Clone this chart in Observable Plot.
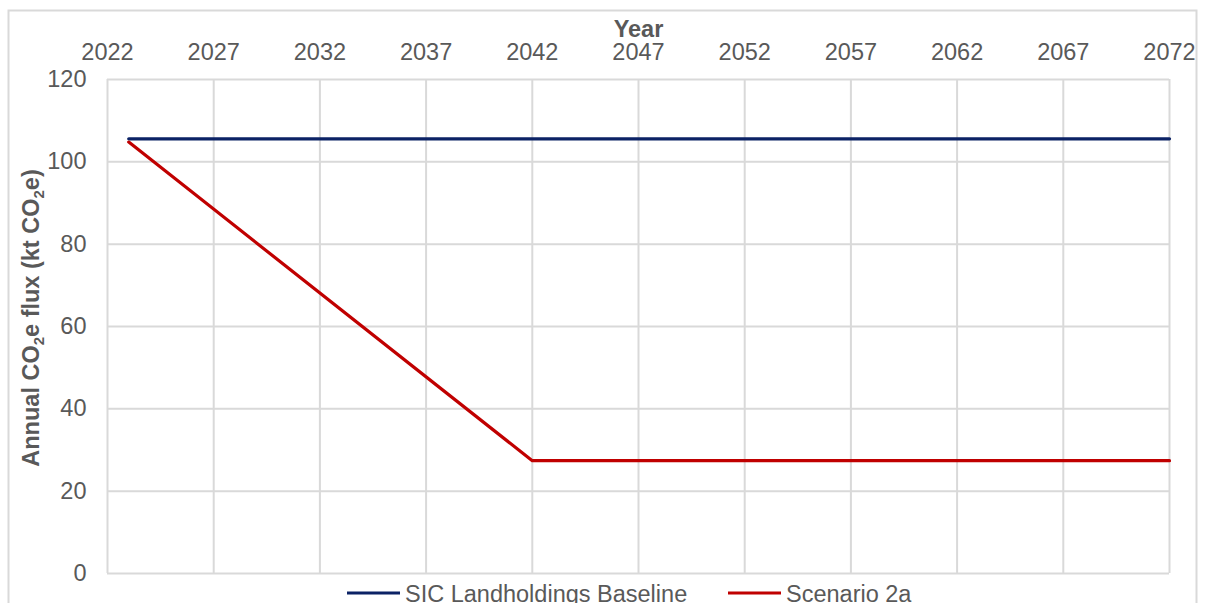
<!DOCTYPE html>
<html>
<head>
<meta charset="utf-8">
<script src="https://cdn.jsdelivr.net/npm/d3@7"></script>
<script src="https://cdn.jsdelivr.net/npm/@observablehq/plot@0.6"></script>
<style>
  html, body { margin: 0; padding: 0; background: #fff; overflow: hidden; }
  #chart { position: relative; width: 1206px; height: 603px; }
</style>
</head>
<body>
<div id="chart"></div>
<script>
// ---- data ----
const years = [2023, 2042, 2072];
const baseline = [105.6, 105.6, 105.6];
const scenario2a = [104.8, 27.4, 27.4];
const seriesNames = ["SIC Landholdings Baseline", "Scenario 2a"];
const seriesColors = ["#0B2265", "#C00000"];
const xTicks = [2022, 2027, 2032, 2037, 2042, 2047, 2052, 2057, 2062, 2067, 2072];
const yTicks = [0, 20, 40, 60, 80, 100, 120];

const rows = [];
years.forEach((yr, i) => {
  rows.push({year: yr, value: baseline[i], series: seriesNames[0]});
  rows.push({year: yr, value: scenario2a[i], series: seriesNames[1]});
});

const FONT = "'Liberation Sans', Arial, sans-serif";
const TXT = "#595959";
const GRID = "#d9d9d9";
const FS = 23.5;

const plot = Plot.plot({
  width: 1206,
  height: 603,
  marginLeft: 107,
  marginRight: 37,
  marginTop: 79,
  marginBottom: 30,
  style: {fontFamily: FONT, fontSize: FS + "px", color: TXT, background: "#fff", overflow: "visible"},
  x: {domain: [2022, 2072]},
  y: {domain: [0, 120]},
  color: {domain: seriesNames, range: seriesColors},
  marks: [
    Plot.gridX(xTicks, {stroke: GRID, strokeOpacity: 1, strokeWidth: 2}),
    Plot.gridY(yTicks, {stroke: GRID, strokeOpacity: 1, strokeWidth: 2}),
    Plot.axisX(xTicks, {anchor: "top", tickSize: 0, tickPadding: 20, tickFormat: d => String(d), label: null, fill: TXT, fontSize: FS}),
    Plot.axisY(yTicks, {anchor: "left", tickSize: 0, tickPadding: 21, label: null, fill: TXT, fontSize: FS}),
    Plot.text(["Year"], {frameAnchor: "top", lineAnchor: "bottom", dy: -43, fontWeight: "bold", fill: TXT, fontSize: FS}),
    Plot.line(rows, {x: "year", y: "value", stroke: "series", z: "series", strokeWidth: 3.2})
  ]
});

document.getElementById("chart").appendChild(plot);

// extras: outer border, y-axis label with subscripts, legend
const svg = d3.select(plot);
svg.insert("rect", ":first-child")
  .attr("x", 8.5).attr("y", 10.5).attr("width", 1188).attr("height", 640)
  .attr("fill", "none").attr("stroke", GRID).attr("stroke-width", 2);

const yl = svg.append("text")
  .attr("transform", "translate(39,318) rotate(-90)")
  .attr("text-anchor", "middle")
  .attr("font-family", FONT).attr("font-size", FS).attr("font-weight", "bold")
  .attr("fill", TXT);
yl.append("tspan").text("Annual CO");
yl.append("tspan").attr("font-size", 15).attr("dy", 5).text("2");
yl.append("tspan").attr("dy", -5).text("e flux (kt CO");
yl.append("tspan").attr("font-size", 15).attr("dy", 5).text("2");
yl.append("tspan").attr("dy", -5).text("e)");

const legendX = [347, 728];
seriesNames.forEach((name, i) => {
  const g = svg.append("g");
  g.append("line").attr("x1", legendX[i]).attr("x2", legendX[i] + 53)
    .attr("y1", 593).attr("y2", 593)
    .attr("stroke", seriesColors[i]).attr("stroke-width", 3.2);
  g.append("text").attr("x", legendX[i] + 58).attr("y", 602)
    .attr("text-anchor", "start")
    .attr("font-family", FONT).attr("font-size", FS).attr("fill", TXT)
    .text(name);
});
</script>
</body>
</html>
